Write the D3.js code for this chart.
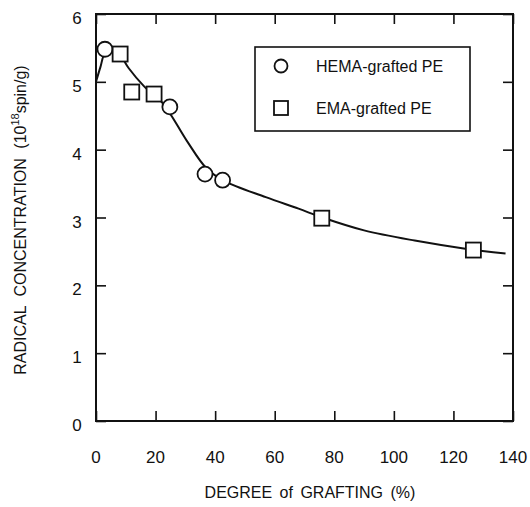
<!DOCTYPE html>
<html>
<head>
<meta charset="utf-8">
<script src="https://cdn.jsdelivr.net/npm/d3@7"></script>
<style>
  body { margin: 0; background: #fff; }
  svg text { font-family: "Liberation Sans", Arial, Helvetica, sans-serif; fill: #111; }
</style>
</head>
<body>
<div id="chart"></div>
<script>
// Radical concentration vs degree of grafting
const hemaX = [3, 24.8, 36.6, 42.5];
const hemaY = [5.48, 4.63, 3.64, 3.55];
const emaX = [8.1, 12.0, 19.5, 75.8, 126.7];
const emaY = [5.41, 4.85, 4.82, 2.99, 2.52];

// fitted curve
const curveX = [0, 1.5, 3, 5.5, 8, 11, 16, 22.5, 30.5, 37, 43, 57, 68, 76, 90, 107, 124, 137.5];
const curveY = [5.0, 5.22, 5.42, 5.46, 5.4, 5.2, 4.94, 4.68, 4.13, 3.73, 3.54, 3.3, 3.13, 3.0, 2.81, 2.66, 2.54, 2.47];

const xTicks = [0, 20, 40, 60, 80, 100, 120, 140];
const yTicks = [0, 1, 2, 3, 4, 5, 6];

(function() {
    const width = 530;
    const height = 507;
    const margin = {top: 14, right: 17, bottom: 86, left: 96};
    const tick = 10;

    const svg = d3.select('#chart')
        .append('svg')
        .attr('width', width)
        .attr('height', height);

    const x = d3.scaleLinear()
        .domain([0, 140])
        .range([margin.left, width - margin.right]);
    const y = d3.scaleLinear()
        .domain([0, 6])
        .range([height - margin.bottom, margin.top]);

    // inward ticks on all four sides
    const axes = [
        {axis: d3.axisBottom(x).tickValues(xTicks), t: `translate(0,${y(0)})`},
        {axis: d3.axisTop(x).tickValues(xTicks), t: `translate(0,${y(6)})`},
        {axis: d3.axisLeft(y).tickValues(yTicks), t: `translate(${x(0)},0)`},
        {axis: d3.axisRight(y).tickValues(yTicks), t: `translate(${x(140)},0)`}
    ];
    axes.forEach(a => {
        const g = svg.append('g')
            .attr('transform', a.t)
            .call(a.axis.tickSizeInner(-tick).tickSizeOuter(0).tickFormat(''));
        g.select('.domain').remove();
        g.selectAll('line').attr('stroke', '#111').attr('stroke-width', 1.6);
    });

    // frame
    svg.append('rect')
        .attr('x', x(0))
        .attr('y', y(6))
        .attr('width', x(140) - x(0))
        .attr('height', y(0) - y(6))
        .attr('fill', 'none')
        .attr('stroke', '#111')
        .attr('stroke-width', 2);

    // tick labels
    svg.append('g').selectAll('text')
        .data(xTicks)
        .enter()
        .append('text')
        .attr('x', d => x(d))
        .attr('y', y(0) + 42)
        .attr('text-anchor', 'middle')
        .attr('font-size', '17px')
        .text(d => d);

    svg.append('g').selectAll('text')
        .data(yTicks)
        .enter()
        .append('text')
        .attr('x', x(0) - 19)
        .attr('y', d => y(d) + 10)
        .attr('text-anchor', 'middle')
        .attr('font-size', '17px')
        .text(d => d);

    // curve
    const line = d3.line()
        .x(d => x(d[0]))
        .y(d => y(d[1]))
        .curve(d3.curveCatmullRom.alpha(0.5));

    svg.append('path')
        .datum(curveX.map((v, i) => [v, curveY[i]]))
        .attr('d', line)
        .attr('fill', 'none')
        .attr('stroke', '#111')
        .attr('stroke-width', 2);

    // markers
    const r = 7.5;
    const s = 15;

    svg.append('g').selectAll('circle')
        .data(hemaX.map((v, i) => [v, hemaY[i]]))
        .enter()
        .append('circle')
        .attr('cx', d => x(d[0]))
        .attr('cy', d => y(d[1]))
        .attr('r', r)
        .attr('fill', '#fff')
        .attr('stroke', '#111')
        .attr('stroke-width', 1.8);

    svg.append('g').selectAll('rect')
        .data(emaX.map((v, i) => [v, emaY[i]]))
        .enter()
        .append('rect')
        .attr('x', d => x(d[0]) - s / 2)
        .attr('y', d => y(d[1]) - s / 2)
        .attr('width', s)
        .attr('height', s)
        .attr('fill', '#fff')
        .attr('stroke', '#111')
        .attr('stroke-width', 1.8);

    // legend
    const lg = svg.append('g');
    lg.append('rect')
        .attr('x', 255)
        .attr('y', 47)
        .attr('width', 215)
        .attr('height', 84)
        .attr('fill', '#fff')
        .attr('stroke', '#111')
        .attr('stroke-width', 1.6);
    lg.append('circle')
        .attr('cx', 281)
        .attr('cy', 66)
        .attr('r', 6.5)
        .attr('fill', 'none')
        .attr('stroke', '#111')
        .attr('stroke-width', 1.8);
    lg.append('rect')
        .attr('x', 274)
        .attr('y', 101)
        .attr('width', 14)
        .attr('height', 14)
        .attr('fill', 'none')
        .attr('stroke', '#111')
        .attr('stroke-width', 1.8);
    lg.append('text')
        .attr('x', 316)
        .attr('y', 72)
        .attr('font-size', '16px')
        .text('HEMA-grafted PE');
    lg.append('text')
        .attr('x', 316)
        .attr('y', 114)
        .attr('font-size', '16px')
        .text('EMA-grafted PE');

    // axis titles
    svg.append('text')
        .attr('x', 310)
        .attr('y', 498)
        .attr('text-anchor', 'middle')
        .attr('font-size', '16px')
        .style('word-spacing', '3px')
        .text('DEGREE of GRAFTING (%)');

    const yt = svg.append('text')
        .attr('transform', 'translate(26,220) rotate(-90)')
        .attr('text-anchor', 'middle')
        .attr('font-size', '16px')
        .style('word-spacing', '5px');
    yt.append('tspan').text('RADICAL CONCENTRATION (10');
    yt.append('tspan')
        .attr('font-size', '11px')
        .attr('dy', -7)
        .text('18');
    yt.append('tspan')
        .attr('dy', 7)
        .text('spin/g)');
})();
</script>
</body>
</html>
